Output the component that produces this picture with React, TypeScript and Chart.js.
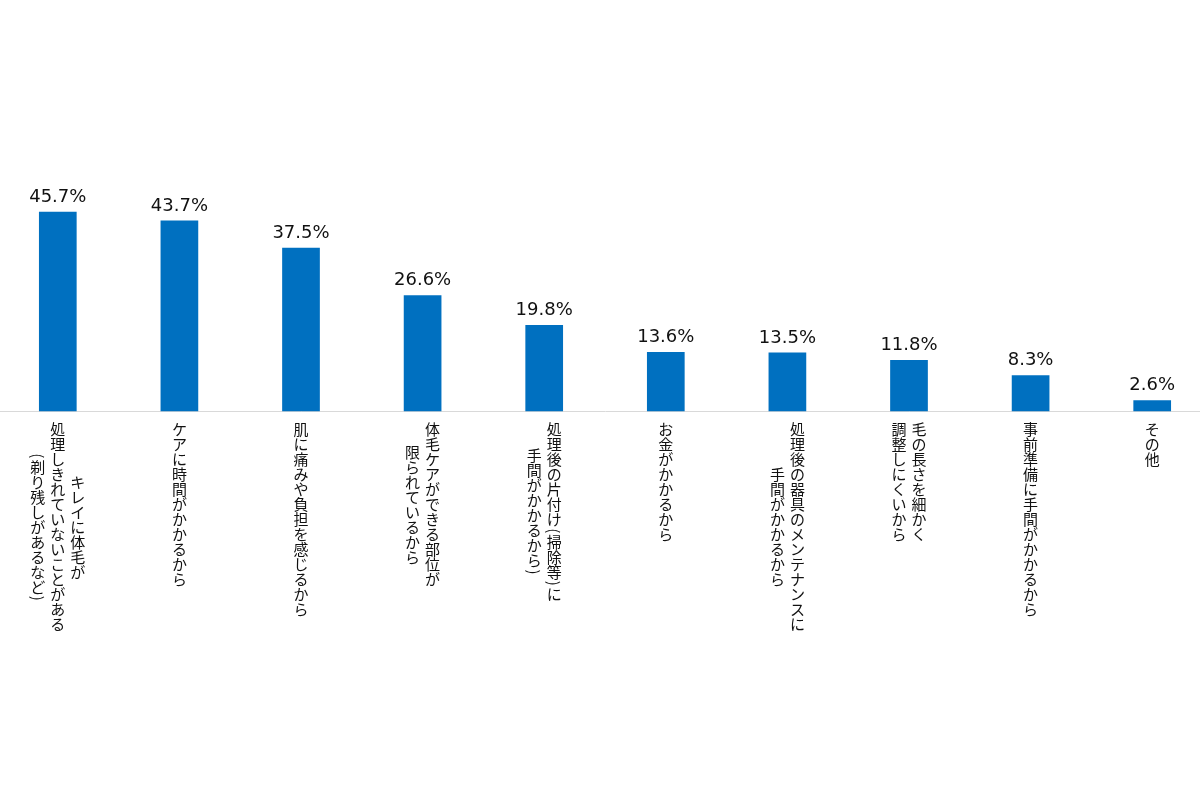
import React, { useEffect, useRef } from "react";
import { Chart, registerables } from "chart.js";

Chart.register(...registerables);

// Category labels, one inner array per category; each string is one vertical column (right to left)
const categoryLines: string[][] = [
  ["キレイに体毛が", "処理しきれていないことがある", "(剃り残しがあるなど)"],
  ["ケアに時間がかかるから"],
  ["肌に痛みや負担を感じるから"],
  ["体毛ケアができる部位が", "限られているから"],
  ["処理後の片付け(掃除等)に", "手間がかかるから)"],
  ["お金がかかるから"],
  ["処理後の器具のメンテナンスに", "手間がかかるから"],
  ["毛の長さを細かく", "調整しにくいから"],
  ["事前準備に手間がかかるから"],
  ["その他"],
];

const values: number[] = [45.7, 43.7, 37.5, 26.6, 19.8, 13.6, 13.5, 11.8, 8.3, 2.6];

const categories: string[] = categoryLines.map((l) => l.join(""));

const Y_MIN = 0;
const Y_MAX = 50;
const BAR_COLOR = "#0070C0";
const AXIS_COLOR = "#d9d9d9";
const TEXT_COLOR = "#111111";

const valueLabelPlugin = {
  id: "valueLabels",
  afterDatasetsDraw(chart: any) {
    const { ctx } = chart;
    const meta = chart.getDatasetMeta(0);
    ctx.save();
    ctx.font = "18px 'DejaVu Sans'";
    ctx.fillStyle = TEXT_COLOR;
    ctx.textAlign = "center";
    ctx.textBaseline = "alphabetic";
    meta.data.forEach((bar: any, i: number) => {
      ctx.fillText(values[i].toFixed(1) + "%", bar.x, bar.y - 10);
    });
    ctx.restore();
  },
};

const verticalLabelPlugin = {
  id: "verticalLabels",
  afterDraw(chart: any) {
    const { ctx } = chart;
    const xs = chart.scales.x;
    const fs = 15;
    const pitch = 15;
    const colGap = 20;
    const top = chart.chartArea.bottom + 10.5;
    const isRot = (ch: string) => ch.charCodeAt(0) < 0x2000;
    const adv = (ch: string) => (isRot(ch) ? pitch * 0.5 : pitch);
    ctx.save();
    ctx.font = `${fs}px 'Noto Sans CJK JP'`;
    ctx.fillStyle = TEXT_COLOR;
    ctx.textAlign = "center";
    ctx.textBaseline = "middle";
    categoryLines.forEach((lines, i) => {
      const cx = xs.getPixelForValue(i);
      const lens = lines.map((l) => Array.from(l).reduce((s, c) => s + adv(c), 0));
      const maxLen = Math.max(...lens);
      lines.forEach((line, j) => {
        const colX = cx + ((lines.length - 1) / 2 - j) * colGap;
        let y = top + (maxLen - lens[j]) / 2;
        for (const ch of Array.from(line)) {
          const a = adv(ch);
          if (isRot(ch)) {
            ctx.save();
            ctx.translate(colX, y + a / 2);
            ctx.rotate(Math.PI / 2);
            ctx.fillText(ch, 0, 0);
            ctx.restore();
          } else {
            ctx.fillText(ch, colX, y + a / 2);
          }
          y += a;
        }
      });
    });
    ctx.restore();
  },
};

export default function App() {
  const canvasRef = useRef<HTMLCanvasElement | null>(null);

  useEffect(() => {
    if (!canvasRef.current) return;
    const chart = new Chart(canvasRef.current, {
      type: "bar",
      data: {
        labels: categories,
        datasets: [
          {
            data: values,
            backgroundColor: BAR_COLOR,
            borderWidth: 0,
            barPercentage: 0.31,
            categoryPercentage: 1,
          },
        ],
      },
      options: {
        animation: false,
        responsive: true,
        maintainAspectRatio: false,
        layout: { padding: { top: 193, left: 0, right: 0, bottom: 0 } },
        plugins: {
          legend: { display: false },
          tooltip: { enabled: false },
          title: { display: false },
        },
        scales: {
          x: {
            type: "category",
            grid: { display: false },
            border: { display: true, color: AXIS_COLOR, width: 1 },
            ticks: { display: false },
            afterFit: (scale: any) => {
              scale.height = 388.5;
            },
          },
          y: {
            display: false,
            min: Y_MIN,
            max: Y_MAX,
          },
        },
      },
      plugins: [valueLabelPlugin, verticalLabelPlugin],
    });
    return () => chart.destroy();
  }, []);

  return (
    <div
      style={{
        position: "fixed",
        left: 0,
        top: 0,
        width: 1200,
        height: 800,
        overflow: "hidden",
        background: "#ffffff",
      }}
    >
      <div style={{ position: "absolute", left: -3, top: 0, width: 1216, height: 800 }}>
        <canvas ref={canvasRef} />
      </div>
    </div>
  );
}
